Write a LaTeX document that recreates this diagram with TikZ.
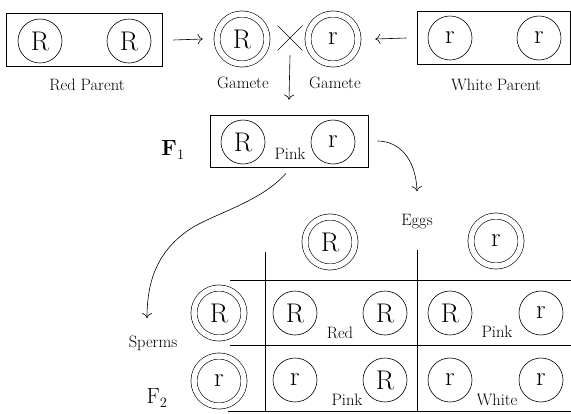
\documentclass[tikz,border=0pt]{standalone}
\usetikzlibrary{arrows.meta,shapes.misc}
\begin{document}
\begin{tikzpicture}[x=1pt,y=-1pt,
    font=\fontsize{16.5}{18}\selectfont,
    allele/.style={circle,draw,line width=0.6pt,fill=white,
                   inner sep=0pt,minimum size=44pt,
                   font=\fontsize{27}{27}\selectfont},
    gamete/.style={allele,double,double distance=5.5pt,minimum size=50pt},
    coppia/.style={draw,line width=0.8pt,minimum width=156pt,minimum height=53pt},
    linea/.style={line width=0.7pt},
    freccia/.style={line width=0.6pt,-{To[length=5pt,width=10pt]}}]

  \useasboundingbox (0,0) rectangle (571,413);

  % parents
  \node[coppia] (redpar) at (84,40) {};
  \node[allele] (red1) at (40,41)  {R};
  \node[allele] (red2) at (129,41) {R};
  \node (redlab) at (87,85) {Red Parent};

  \node[coppia,minimum width=153pt] (whitepar) at (493.5,38) {};
  \node[allele] (white1) at (450,38) {r};
  \node[allele] (white2) at (539,38) {r};
  \node (whitelab) at (496,85) {White Parent};

  % gametes
  \node[gamete] (gamR) at (242,39) {R};
  \node[gamete] (gamr) at (333,39) {r};
  \node[cross out,draw,line width=0.6pt,inner sep=0pt,minimum size=24pt] (incrocio) at (290,38) {};
  \node (gamlab1) at (243,83) {Gamete};
  \node (gamlab2) at (335,83) {Gamete};

  % F1
  \node[coppia,minimum width=158pt,minimum height=52pt] (f1) at (289,141) {};
  \node[allele] (f1R) at (243,142) {R};
  \node[allele] (f1r) at (333,142) {r};
  \node (f1lab) at (290,154) {Pink};
  \node[font=\fontsize{22}{22}\selectfont] (f1name) at (173,150) {\textbf{F}$_1$};

  \draw[freccia] ([xshift=11pt]redpar.east) -- ([xshift=-14pt]gamR.west);
  \draw[freccia] ([xshift=-10pt]whitepar.west) -- ([xshift=17pt]gamr.east);
  \draw[freccia] ([yshift=-5pt]incrocio.south) -- ([yshift=15pt]f1.north);

  % F2
  \node (eggs) at (417,222) {Eggs};
  \node (sperms) at (153,343) {Sperms};
  \node[font=\fontsize{22}{22}\selectfont] (f2name) at (157,398) {F$_2$};

  \draw[freccia] ([xshift=-3pt,yshift=-6pt]f1.south)
        .. controls (262,200) and (225,210) .. (195,226)
        .. controls (158,248) and (147,280) .. ([xshift=-6pt,yshift=14pt]sperms.north);
  \draw[freccia] ([xshift=9pt]f1.east)
        .. controls (400,141) and (416,160) .. ([yshift=20pt]eggs.north);

  \draw[linea] (265,252) -- (265,412);
  \draw[linea] (417,250) -- (417,412);
  \draw[linea] (230,280) -- (571,280);
  \draw[linea] (230,345) -- (571,345);
  \draw[linea] (228,411) -- (571,411);

  \node[gamete] (eggR) at (330,242) {R};
  \node[gamete] (eggr) at (496,241) {r};
  \node[gamete] (spermR) at (219,313) {R};
  \node[gamete] (spermr) at (219,381) {r};

  \node[allele] (c11a) at (295,313) {R};
  \node[allele] (c11b) at (385,313) {R};
  \node (c11lab) at (340,333) {Red};
  \node[allele] (c12a) at (450,313) {R};
  \node[allele] (c12b) at (541,313) {r};
  \node (c12lab) at (497,332) {Pink};

  \node[allele] (c21a) at (295,380) {r};
  \node[allele] (c21b) at (385,380) {R};
  \node (c21lab) at (347,400) {Pink};
  \node[allele] (c22a) at (450,380) {r};
  \node[allele] (c22b) at (541,380) {r};
  \node (c22lab) at (497,400) {White};

\end{tikzpicture}
\end{document}
